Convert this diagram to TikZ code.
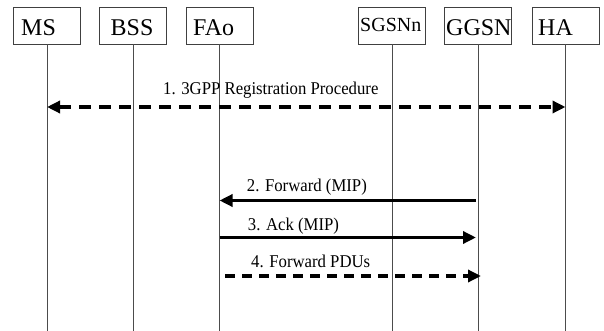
\documentclass[tikz,border=0pt]{standalone}
\usepackage{fontspec}
\setmainfont{Liberation Serif}
\newfontfamily\msgfont{Liberation Serif}[FakeStretch=0.93]
\usetikzlibrary{arrows.meta}
\begin{document}
\begin{tikzpicture}[x=1pt,y=-1pt,
  entity/.style={draw=black!75, line width=0.8pt, minimum width=67pt,
    minimum height=37pt, inner sep=0pt},
  entname/.style={font=\fontsize{24}{24}\selectfont, inner sep=0pt, anchor=base west},
  lifeline/.style={draw=black!70, line width=0.8pt},
  msg/.style={line width=3.5pt, -{Triangle[length=13pt,width=12pt]}},
  msgdashed/.style={msg, dash pattern=on 12pt off 8pt},
  msglabel/.style={font=\msgfont\fontsize{18}{18}\selectfont, inner sep=0pt, anchor=base west}]
\useasboundingbox (0,0) rectangle (604,331);

% entity boxes
\node[entity] (ms)   at (47,25.5)    {};
\node[entity] (bss)  at (133,25.5)   {};
\node[entity] (fao)  at (219.5,25.5) {};
\node[entity] (sgsn) at (392,25.5)   {};
\node[entity] (ggsn) at (478,25.5)   {};
\node[entity] (ha)   at (565.5,25.5) {};

\node[entname] (msname)   at (21,35.5)  {MS};
\node[entname] (bssname)  at (110.5,35.5) {BSS};
\node[entname] (faoname)  at (193,35.5) {FAo};
\node[entname, font=\fontsize{20}{20}\selectfont] (sgsnname) at (360,32) {SGSNn};
\node[entname] (ggsnname) at (446,36) {GGSN};
\node[entname] (haname)   at (538,36) {HA};

% lifelines
\coordinate (bottom) at (0,331);
\foreach \e in {ms,bss,fao,sgsn,ggsn,ha}
  \draw[lifeline] (\e.south) -- (\e.south |- bottom);

% message rows
\coordinate (m1) at (0,107);
\coordinate (m2) at (0,200.5);
\coordinate (m3) at (0,237.5);
\coordinate (m4) at (0,276);

\draw[msgdashed, {Triangle[length=13pt,width=12pt]}-{Triangle[length=13pt,width=12pt]}]
  (ms.south |- m1) -- (ha.south |- m1);
\node[msglabel] (l1) at (163,94.3) {1. 3GPP Registration Procedure};

\draw[msg] ([xshift=-2pt]ggsn.south |- m2) -- (fao.south |- m2);
\node[msglabel] (l2) at (246.7,191.8) {2. Forward (MIP)};

\draw[msg] (fao.south |- m3) -- ([xshift=-2pt]ggsn.south |- m3);
\node[msglabel] (l3) at (247.7,230) {3. Ack (MIP)};

\draw[msgdashed, dash pattern=on 10pt off 7pt]
  ([xshift=5.5pt]fao.south |- m4) -- ([xshift=3pt]ggsn.south |- m4);
\node[msglabel] (l4) at (251,267.3) {4. Forward PDUs};
\end{tikzpicture}
\end{document}
